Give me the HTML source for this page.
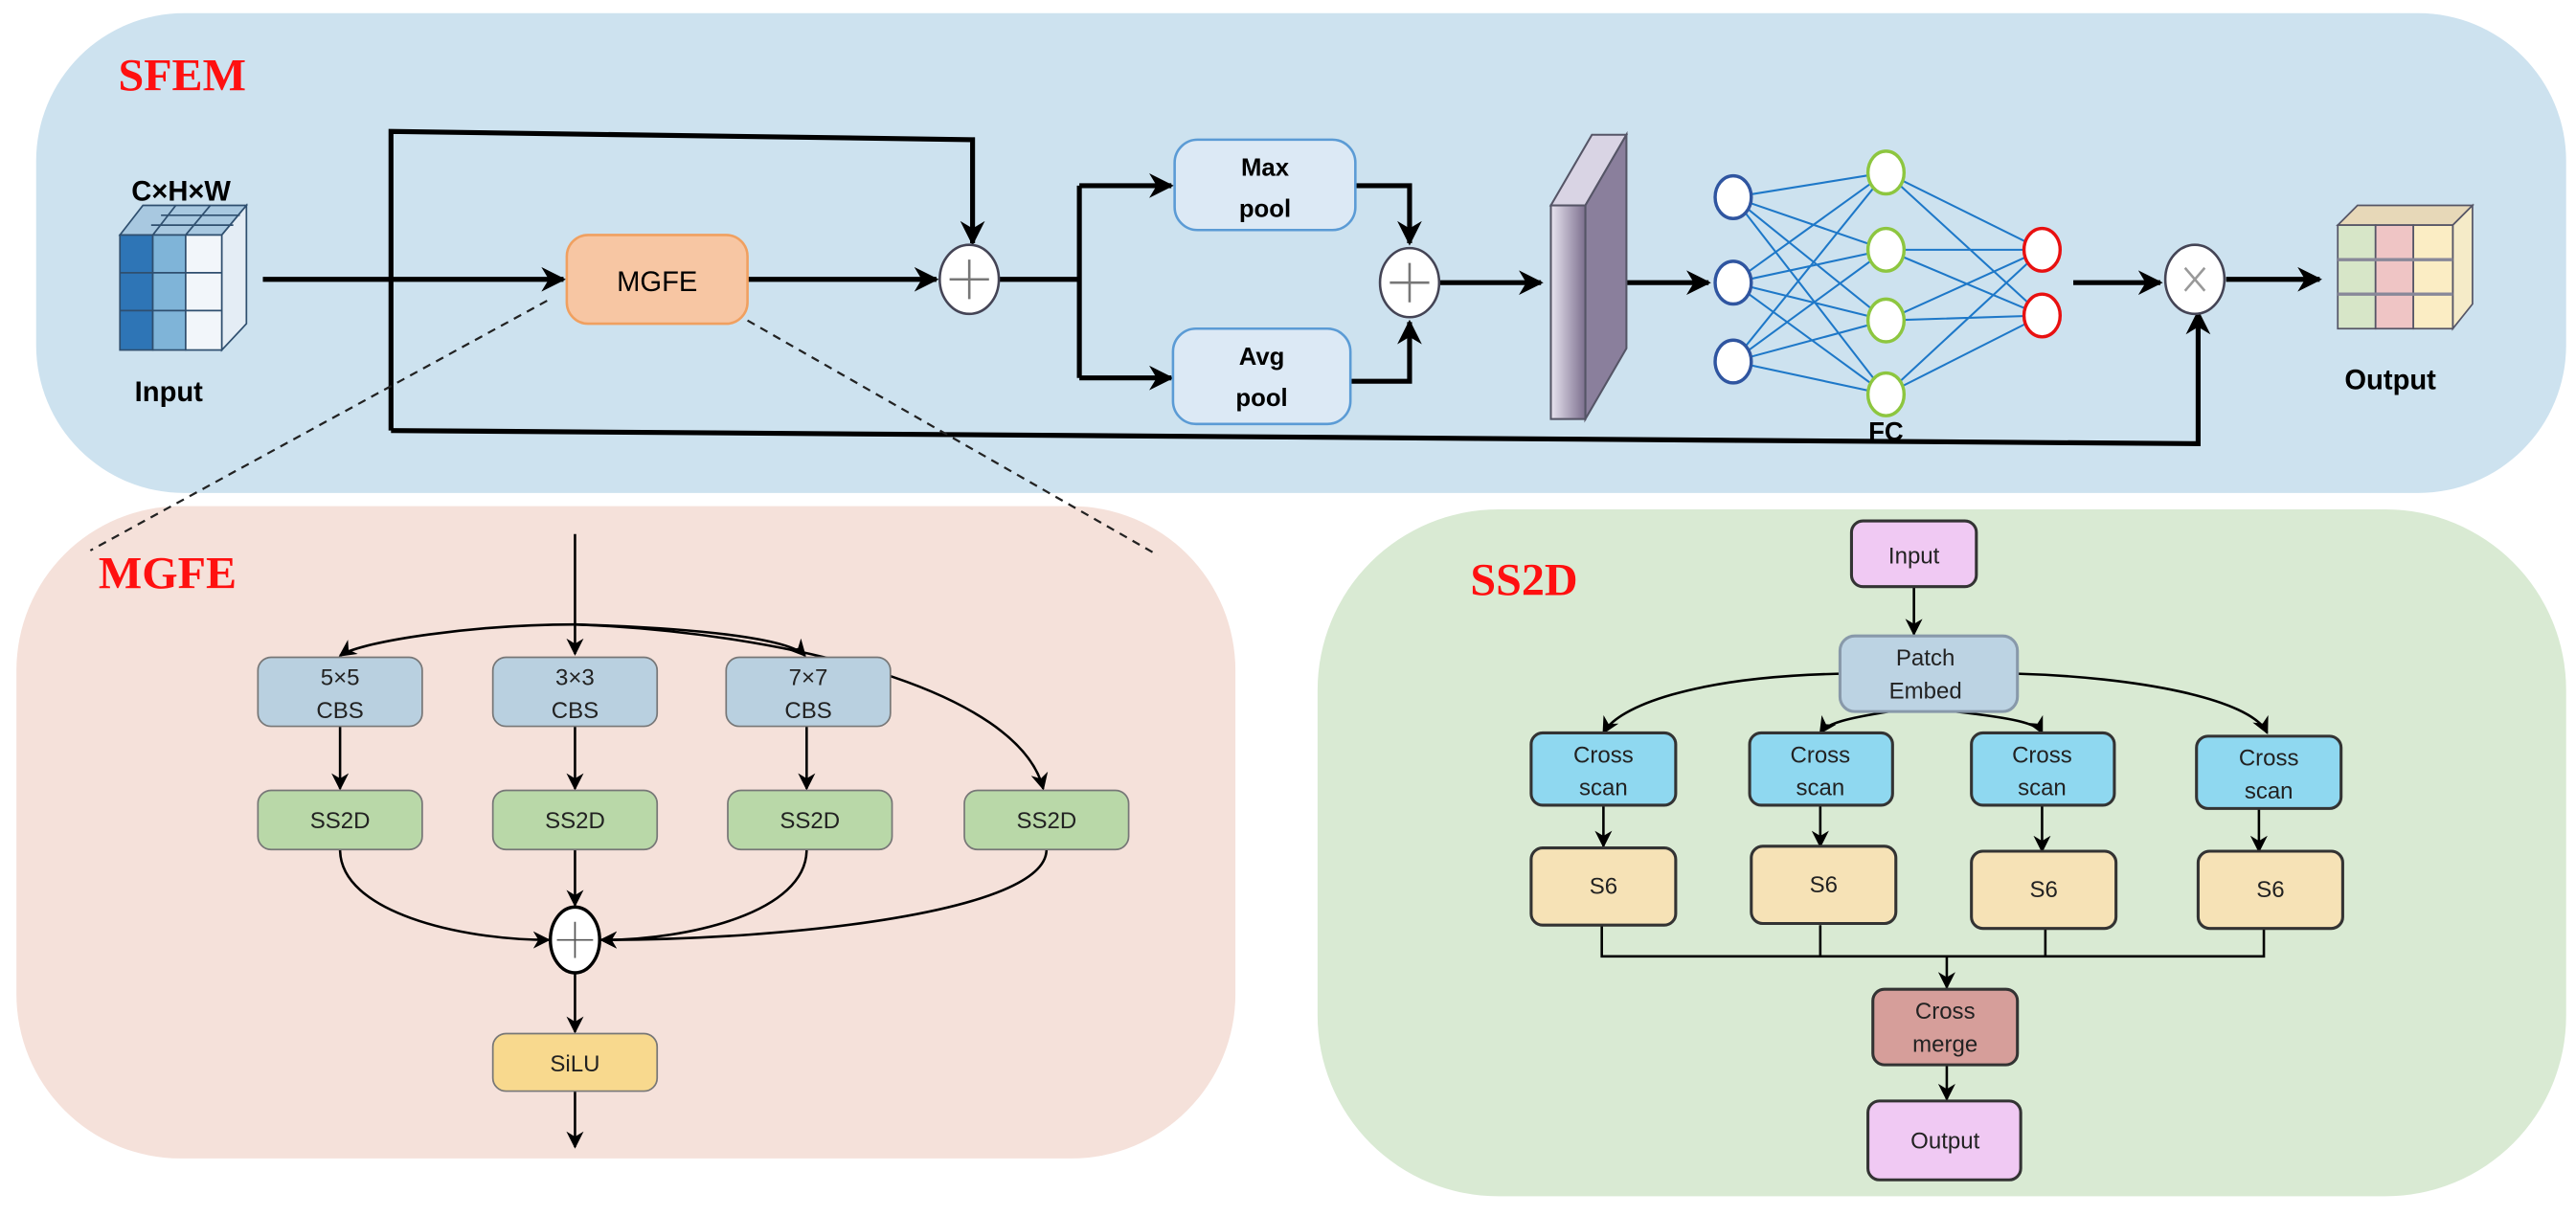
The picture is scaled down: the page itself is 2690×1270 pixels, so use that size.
<!DOCTYPE html>
<html><head><meta charset="utf-8"><style>
html,body{margin:0;padding:0;background:#fff;}
svg{display:block;}
text{font-family:"Liberation Sans",sans-serif;}
.t{font-family:"Liberation Serif",serif;font-weight:bold;fill:#ff1010;}
</style></head><body>
<svg width="2690" height="1270" viewBox="0 0 1568 740" preserveAspectRatio="none" xmlns="http://www.w3.org/2000/svg">
<defs>
<marker id="a" viewBox="0 0 10 10" refX="9" refY="5" markerWidth="5" markerHeight="5" orient="auto-start-reverse"><path d="M0,0 L10,5 L0,10 L3,5 z" fill="#000"/></marker>
<marker id="s" viewBox="0 0 10 10" refX="9" refY="5" markerWidth="7" markerHeight="7" orient="auto"><path d="M0,0 L10,5 L0,10 L3,5 z" fill="#000"/></marker>
<linearGradient id="sl" x1="0" x2="1"><stop offset="0" stop-color="#e8e4f0"/><stop offset="1" stop-color="#7c6f8e"/></linearGradient>
</defs>
<!-- panels -->
<rect x="22" y="8" width="1540" height="292" rx="90" fill="#cde2ef"/>
<rect x="10" y="308" width="742" height="397" rx="100" fill="#f5e1da"/>
<rect x="802" y="310" width="760" height="418" rx="110" fill="#d9ead3"/>

<text class="t" x="72" y="55" font-size="28">SFEM</text>
<text class="t" x="60" y="358" font-size="28">MGFE</text>
<text class="t" x="895" y="362" font-size="28">SS2D</text>

<!-- input cube -->
<g stroke="#2f4f6f" stroke-width="1">
<polygon points="73,143 87,125 150,125 135,143" fill="#a8c8e0"/>
<polygon points="135,143 150,125 150,197 135,213" fill="#e4edf5"/>
<rect x="73" y="143" width="20" height="70" fill="#2e75b6"/>
<rect x="93" y="143" width="20" height="70" fill="#7fb4d8"/>
<rect x="113" y="143" width="22" height="70" fill="#f2f6fa"/>
<line x1="73" y1="166" x2="135" y2="166"/><line x1="73" y1="189" x2="135" y2="189"/>
<line x1="92" y1="137" x2="142" y2="137"/><line x1="98" y1="131" x2="146" y2="131"/>
<line x1="93" y1="143" x2="107" y2="125"/><line x1="113" y1="143" x2="128" y2="125"/>
</g>
<text x="80" y="122" font-size="17" font-weight="bold">C×H×W</text>
<text x="82" y="244" font-size="17" font-weight="bold">Input</text>

<!-- SFEM lines -->
<g stroke="#000" stroke-width="3" fill="none">
<line x1="160" y1="170" x2="343" y2="170" marker-end="url(#a)"/>
<path d="M238,262 L238,80 L592,85 L592,148" marker-end="url(#a)"/>
<path d="M238,262 L1338,270 L1338,190" marker-end="url(#a)"/>
<line x1="455" y1="170" x2="570" y2="170" marker-end="url(#a)"/>
<path d="M608,170 L657,170 M657,113 L657,230 M657,113 L713,113" marker-end="url(#a)"/>
<line x1="657" y1="230" x2="713" y2="230" marker-end="url(#a)"/>
<path d="M825,113 L858,113 L858,148" marker-end="url(#a)"/>
<path d="M822,232 L858,232 L858,196" marker-end="url(#a)"/>
<line x1="876" y1="172" x2="938" y2="172" marker-end="url(#a)"/>
<line x1="990" y1="172" x2="1040" y2="172" marker-end="url(#a)"/>
<line x1="1262" y1="172" x2="1315" y2="172" marker-end="url(#a)"/>
<line x1="1355" y1="170" x2="1412" y2="170" marker-end="url(#a)"/>
</g>
<rect x="345" y="143" width="110" height="54" rx="13" fill="#f7c6a3" stroke="#f0a060" stroke-width="1.5"/>
<text x="400" y="177" font-size="17" text-anchor="middle">MGFE</text>
<g stroke="#445" stroke-width="1.5" fill="#fff">
<ellipse cx="590" cy="170" rx="18" ry="21"/><ellipse cx="858" cy="172" rx="18" ry="21"/><ellipse cx="1336" cy="170" rx="18" ry="21"/>
</g>
<path d="M590,158 V182 M578,170 H602 M858,160 V184 M846,172 H870" stroke="#777" stroke-width="1.5"/>
<path d="M1330,163 L1342,177 M1342,163 L1330,177" stroke="#999" stroke-width="1.5"/>
<rect x="715" y="85" width="110" height="55" rx="14" fill="#dce9f5" stroke="#5b9bd5" stroke-width="1.5"/>
<rect x="714" y="200" width="108" height="58" rx="14" fill="#dce9f5" stroke="#5b9bd5" stroke-width="1.5"/>
<text x="770" y="107" font-size="15" font-weight="bold" text-anchor="middle">Max</text>
<text x="770" y="132" font-size="15" font-weight="bold" text-anchor="middle">pool</text>
<text x="768" y="222" font-size="15" font-weight="bold" text-anchor="middle">Avg</text>
<text x="768" y="247" font-size="15" font-weight="bold" text-anchor="middle">pool</text>
<!-- slab -->
<polygon points="944,125 969,82 990,82 965,125" fill="#d9d4e4" stroke="#556" stroke-width="1.2"/>
<polygon points="965,125 990,82 990,212 965,255" fill="#8a7f9c" stroke="#556" stroke-width="1.2"/>
<rect x="944" y="125" width="21" height="130" fill="url(#sl)" stroke="#556" stroke-width="1.2"/>
<!-- NN -->
<g stroke="#1e78c8" stroke-width="1.2">
<path d="M1055,120 L1148,105 M1055,120 L1148,152 M1055,120 L1148,195 M1055,120 L1148,240 M1055,172 L1148,105 M1055,172 L1148,152 M1055,172 L1148,195 M1055,172 L1148,240 M1055,220 L1148,105 M1055,220 L1148,152 M1055,220 L1148,195 M1055,220 L1148,240"/>
<path d="M1148,105 L1243,152 M1148,105 L1243,192 M1148,152 L1243,152 M1148,152 L1243,192 M1148,195 L1243,152 M1148,195 L1243,192 M1148,240 L1243,152 M1148,240 L1243,192"/>
</g>
<g fill="#fff" stroke-width="2">
<ellipse cx="1055" cy="120" rx="11" ry="13" stroke="#2f55a0"/><ellipse cx="1055" cy="172" rx="11" ry="13" stroke="#2f55a0"/><ellipse cx="1055" cy="220" rx="11" ry="13" stroke="#2f55a0"/>
<ellipse cx="1148" cy="105" rx="11" ry="13" stroke="#8dc63f"/><ellipse cx="1148" cy="152" rx="11" ry="13" stroke="#8dc63f"/><ellipse cx="1148" cy="195" rx="11" ry="13" stroke="#8dc63f"/><ellipse cx="1148" cy="240" rx="11" ry="13" stroke="#8dc63f"/>
<ellipse cx="1243" cy="152" rx="11" ry="13" stroke="#e81010"/><ellipse cx="1243" cy="192" rx="11" ry="13" stroke="#e81010"/>
</g>
<text x="1148" y="268" font-size="16" font-weight="bold" text-anchor="middle">FC</text>
<!-- output cube -->
<g stroke="#556" stroke-width="1">
<polygon points="1423,137 1435,125 1505,125 1493,137" fill="#e7d8b8"/>
<polygon points="1493,137 1505,125 1505,185 1493,200" fill="#f5ebc8"/>
<rect x="1423" y="137" width="23" height="63" fill="#d7e6c8"/>
<rect x="1446" y="137" width="23" height="63" fill="#efc5c5"/>
<rect x="1469" y="137" width="24" height="63" fill="#fbedc4"/>
<line x1="1423" y1="158" x2="1493" y2="158" stroke-width="2" stroke="#889"/><line x1="1423" y1="179" x2="1493" y2="179" stroke-width="2" stroke="#889"/>
</g>
<text x="1455" y="237" font-size="17" font-weight="bold" text-anchor="middle">Output</text>
<!-- dashed -->
<g stroke="#222" stroke-width="1.3" stroke-dasharray="5,4">
<line x1="333" y1="183" x2="55" y2="335"/><line x1="455" y1="195" x2="705" y2="338"/>
</g>

<!-- MGFE detail -->
<g stroke="#000" stroke-width="1.5" fill="none">
<line x1="350" y1="325" x2="350" y2="398" marker-end="url(#s)"/>
<path d="M350,380 C290,380 220,390 207,399" marker-end="url(#s)"/>
<path d="M350,380 C420,382 480,388 490,399" marker-end="url(#s)"/>
<path d="M350,380 C480,385 620,420 635,480" marker-end="url(#s)"/>
<line x1="207" y1="442" x2="207" y2="480" marker-end="url(#s)"/>
<line x1="350" y1="442" x2="350" y2="480" marker-end="url(#s)"/>
<line x1="491" y1="442" x2="491" y2="480" marker-end="url(#s)"/>
<line x1="350" y1="517" x2="350" y2="551" marker-end="url(#s)"/>
<path d="M207,517 C207,555 280,572 334,572" marker-end="url(#s)"/>
<path d="M491,517 C491,555 420,572 366,572" marker-end="url(#s)"/>
<path d="M637,517 C637,555 480,572 366,572" marker-end="url(#s)"/>
<line x1="350" y1="592" x2="350" y2="628" marker-end="url(#s)"/>
<line x1="350" y1="664" x2="350" y2="698" marker-end="url(#s)"/>
</g>
<g stroke="#777" stroke-width="1" font-size="14">
<rect x="157" y="400" width="100" height="42" rx="8" fill="#b9d0e0"/>
<rect x="300" y="400" width="100" height="42" rx="8" fill="#b9d0e0"/>
<rect x="442" y="400" width="100" height="42" rx="8" fill="#b9d0e0"/>
<rect x="157" y="481" width="100" height="36" rx="8" fill="#b9d8a8"/>
<rect x="300" y="481" width="100" height="36" rx="8" fill="#b9d8a8"/>
<rect x="443" y="481" width="100" height="36" rx="8" fill="#b9d8a8"/>
<rect x="587" y="481" width="100" height="36" rx="8" fill="#b9d8a8"/>
<rect x="300" y="629" width="100" height="35" rx="8" fill="#f8d98e"/>
</g>
<g font-size="14" text-anchor="middle" fill="#222">
<text x="207" y="417">5×5</text><text x="207" y="437">CBS</text>
<text x="350" y="417">3×3</text><text x="350" y="437">CBS</text>
<text x="492" y="417">7×7</text><text x="492" y="437">CBS</text>
<text x="207" y="504">SS2D</text><text x="350" y="504">SS2D</text><text x="493" y="504">SS2D</text><text x="637" y="504">SS2D</text>
<text x="350" y="652">SiLU</text>
</g>
<ellipse cx="350" cy="572" rx="15" ry="20" fill="#fff" stroke="#000" stroke-width="2"/>
<path d="M350,561 V583 M339,572 H361" stroke="#555" stroke-width="1"/>

<!-- SS2D detail -->
<g stroke="#000" stroke-width="1.5" fill="none">
<line x1="1165" y1="357" x2="1165" y2="386" marker-end="url(#s)"/>
<path d="M1120,410 C1030,412 985,430 976,446" marker-end="url(#s)"/>
<path d="M1150,433 C1125,437 1112,440 1108,446" marker-end="url(#s)"/>
<path d="M1190,433 C1225,437 1240,440 1243,446" marker-end="url(#s)"/>
<path d="M1228,410 C1300,412 1370,425 1380,446" marker-end="url(#s)"/>
<line x1="976" y1="490" x2="976" y2="515" marker-end="url(#s)"/>
<line x1="1108" y1="490" x2="1108" y2="515" marker-end="url(#s)"/>
<line x1="1243" y1="490" x2="1243" y2="518" marker-end="url(#s)"/>
<line x1="1375" y1="492" x2="1375" y2="518" marker-end="url(#s)"/>
<path d="M975,563 V582 H1378 V565 M1108,563 V582 M1245,565 V582"/>
<line x1="1185" y1="582" x2="1185" y2="601" marker-end="url(#s)"/>
<line x1="1185" y1="648" x2="1185" y2="669" marker-end="url(#s)"/>
</g>
<g stroke="#333" stroke-width="1.8">
<rect x="1127" y="317" width="76" height="40" rx="7" fill="#f0c9f3"/>
<rect x="1120" y="387" width="108" height="46" rx="9" fill="#bcd3e3" stroke="#8899aa"/>
<rect x="932" y="446" width="88" height="44" rx="7" fill="#8fd8f0"/>
<rect x="1065" y="446" width="87" height="44" rx="7" fill="#8fd8f0"/>
<rect x="1200" y="446" width="87" height="44" rx="7" fill="#8fd8f0"/>
<rect x="1337" y="448" width="88" height="44" rx="7" fill="#8fd8f0"/>
<rect x="932" y="516" width="88" height="47" rx="7" fill="#f6e2b6"/>
<rect x="1066" y="515" width="88" height="47" rx="7" fill="#f6e2b6"/>
<rect x="1200" y="518" width="88" height="47" rx="7" fill="#f6e2b6"/>
<rect x="1338" y="518" width="88" height="47" rx="7" fill="#f6e2b6"/>
<rect x="1140" y="602" width="88" height="46" rx="7" fill="#d69e9a"/>
<rect x="1137" y="670" width="93" height="48" rx="7" fill="#f0c9f3"/>
</g>
<g font-size="14" text-anchor="middle" fill="#222">
<text x="1165" y="343">Input</text>
<text x="1172" y="405">Patch</text><text x="1172" y="425">Embed</text>
<text x="976" y="464">Cross</text><text x="976" y="484">scan</text>
<text x="1108" y="464">Cross</text><text x="1108" y="484">scan</text>
<text x="1243" y="464">Cross</text><text x="1243" y="484">scan</text>
<text x="1381" y="466">Cross</text><text x="1381" y="486">scan</text>
<text x="976" y="544">S6</text><text x="1110" y="543">S6</text><text x="1244" y="546">S6</text><text x="1382" y="546">S6</text>
<text x="1184" y="620">Cross</text><text x="1184" y="640">merge</text>
<text x="1184" y="699">Output</text>
</g>
</svg>
</body></html>
